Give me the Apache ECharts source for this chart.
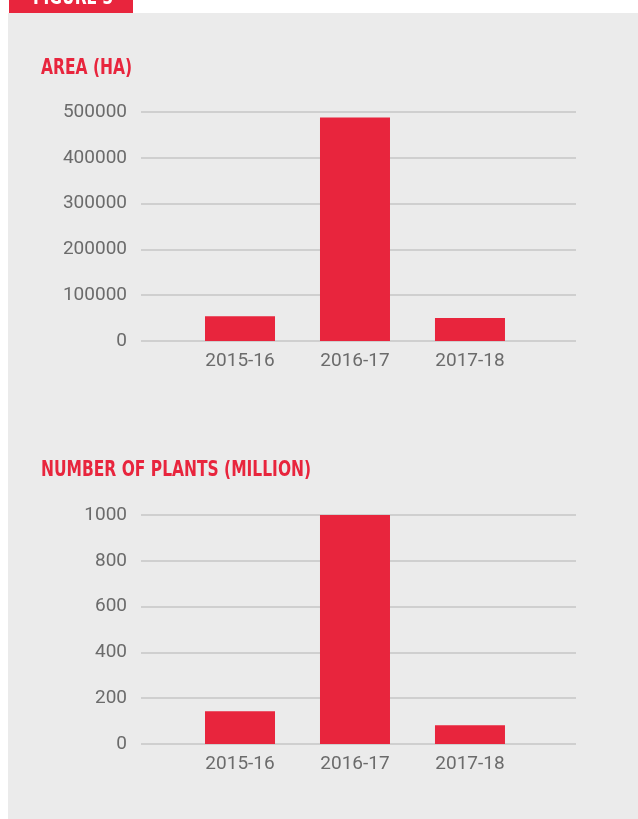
<!DOCTYPE html>
<html>
<head>
<meta charset="utf-8">
<script src="https://cdn.jsdelivr.net/npm/echarts@6/dist/echarts.min.js"></script>
<style>
  html, body { margin: 0; padding: 0; background: #ffffff; }
  #chart { width: 638px; height: 819px; }
</style>
</head>
<body>
<div id="chart"></div>
<script>
// data
var seasons = ['2015-16', '2016-17', '2017-18'];
var areaHa = [54000, 488000, 50000];
var plantsMillion = [143, 1000, 82];
var areaTicks = [0, 100000, 200000, 300000, 400000, 500000];
var plantTicks = [0, 200, 400, 600, 800, 1000];

var RED = '#e8253d';
var GREY_TEXT = '#6b6b6b';
var TITLE_FONT = 'bold 21px "Liberation Sans Narrow", "DejaVu Sans Condensed", "Liberation Sans", sans-serif';

var chart = echarts.init(document.getElementById('chart'));

function pairs(vals) {
    return vals.map(function (v, i) { return [i + 1, v]; });
}

function xAxisFor(idx) {
    return {
        type: 'value',
        gridIndex: idx,
        min: 0.139,
        max: 3.922,
        axisLine: { show: false },
        axisTick: { show: false },
        splitLine: { show: false },
        axisLabel: {
            customValues: [1, 2, 3],
            color: GREY_TEXT,
            fontFamily: 'Roboto',
            fontSize: 19,
            margin: 11,
            formatter: function (v) { return seasons[Math.round(v) - 1] || ''; }
        }
    };
}

function yAxisFor(idx, ticks) {
    return {
        type: 'value',
        gridIndex: idx,
        min: ticks[0],
        max: ticks[ticks.length - 1],
        interval: ticks[1] - ticks[0],
        axisLine: { show: false },
        axisTick: { show: false },
        splitLine: { show: true, lineStyle: { color: '#cfcfcf', width: 2 } },
        axisLabel: {
            color: GREY_TEXT,
            fontFamily: 'Roboto',
            fontSize: 19,
            margin: 14,
            padding: [6, 0, 0, 0],
            formatter: function (v) { return String(v); }
        }
    };
}

function title(text, x, y) {
    return {
        type: 'text', x: x, y: y, scaleX: 0.82, z: 10,
        style: { text: text, fill: RED, font: TITLE_FONT, verticalAlign: 'top' }
    };
}

var option = {
    backgroundColor: '#ffffff',
    animation: false,
    graphic: [
        { type: 'rect', z: -10, shape: { x: 8, y: 13, width: 630, height: 806 }, style: { fill: '#ebebeb' } },
        { type: 'rect', z: 1, shape: { x: 9, y: 0, width: 124, height: 13 }, style: { fill: RED } },
        {
            type: 'text', x: 33, y: 9, scaleX: 0.82, z: 10,
            style: { text: 'FIGURE 3', fill: '#ffffff', font: TITLE_FONT, verticalAlign: 'bottom' }
        },
        title('AREA (HA)', 41, 58),
        title('NUMBER OF PLANTS (MILLION)', 41, 460)
    ],
    grid: [
        { left: 141, right: 62, top: 112, height: 229 },
        { left: 141, right: 62, top: 515, height: 229 }
    ],
    xAxis: [xAxisFor(0), xAxisFor(1)],
    yAxis: [yAxisFor(0, areaTicks), yAxisFor(1, plantTicks)],
    series: [
        {
            name: 'Area (ha)',
            type: 'bar',
            xAxisIndex: 0,
            yAxisIndex: 0,
            barWidth: 70,
            itemStyle: { color: RED },
            data: pairs(areaHa)
        },
        {
            name: 'Number of plants (million)',
            type: 'bar',
            xAxisIndex: 1,
            yAxisIndex: 1,
            barWidth: 70,
            itemStyle: { color: RED },
            data: pairs(plantsMillion)
        }
    ]
};

chart.setOption(option);
</script>
</body>
</html>
